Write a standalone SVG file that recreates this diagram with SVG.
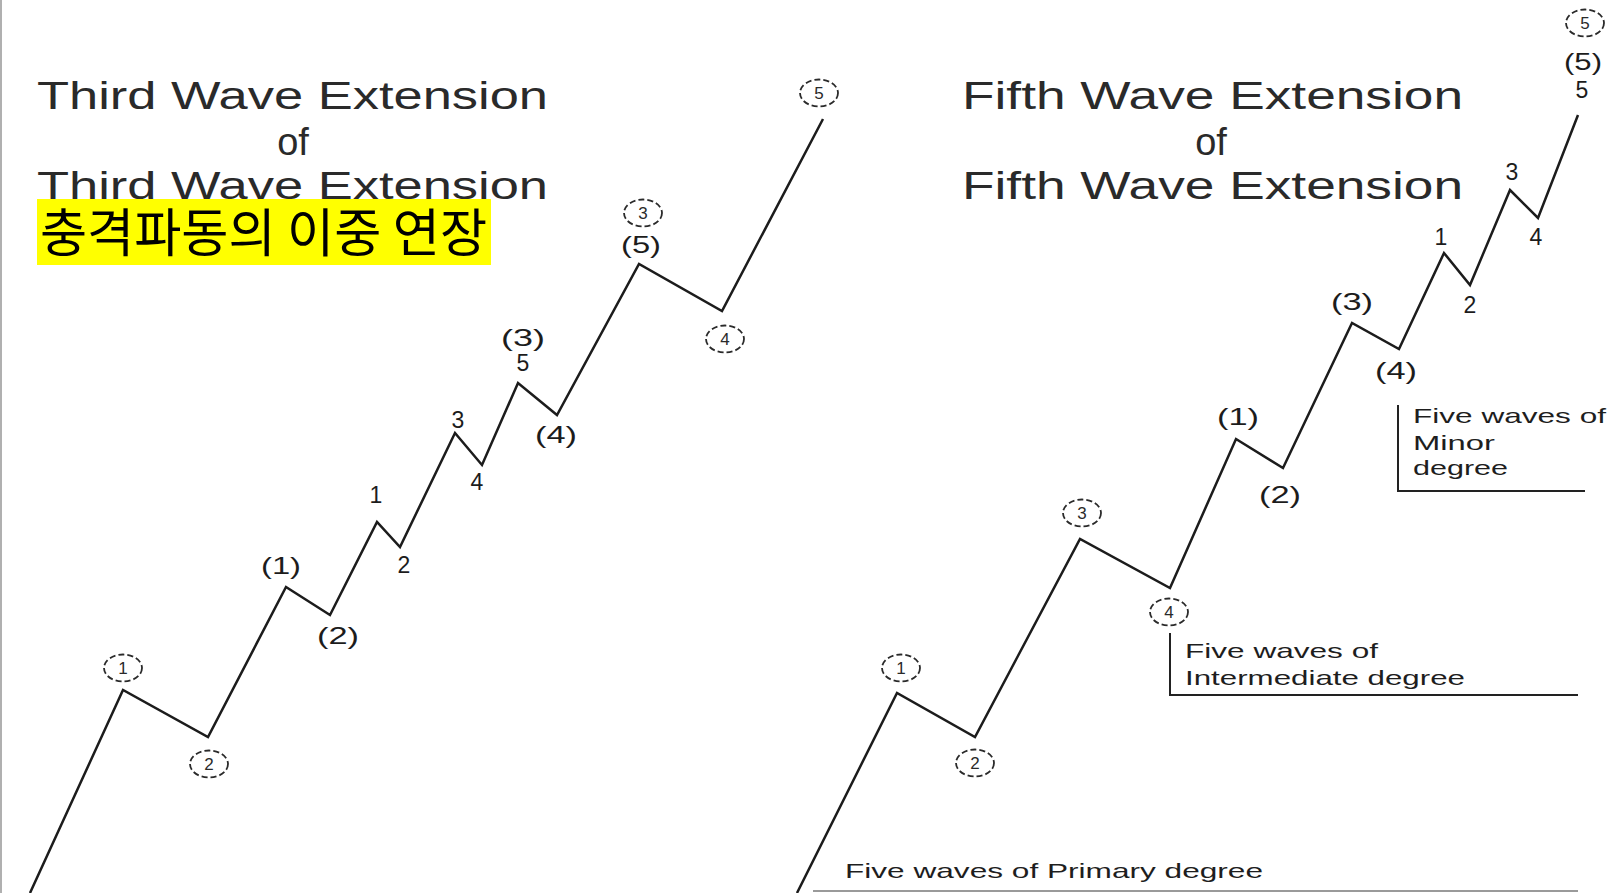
<svg xmlns="http://www.w3.org/2000/svg" width="1607" height="893" viewBox="0 0 1607 893">
<style>
.title{font-family:"Liberation Sans",Arial,sans-serif;font-size:38px;fill:#2a2a2a;text-anchor:start}
.titlec{font-family:"Liberation Sans",Arial,sans-serif;font-size:38px;fill:#2a2a2a;text-anchor:middle}
.wave{fill:none;stroke:#1c1c1c;stroke-width:2.5;stroke-linejoin:miter}
.num{font-family:"Liberation Sans",Arial,sans-serif;font-size:23px;fill:#1c1c1c;text-anchor:middle}
.par{font-family:"Liberation Sans",Arial,sans-serif;font-size:24px;fill:#1c1c1c;text-anchor:middle}
.circ{fill:none;stroke:#2a2a2a;stroke-width:1.8;stroke-dasharray:6 3}
.cnum{font-family:"Liberation Sans",Arial,sans-serif;font-size:17px;fill:#2a2a2a;text-anchor:middle}
.call{font-family:"Liberation Sans",Arial,sans-serif;font-size:21px;fill:#1e1e1e}
.callline{fill:none;stroke:#222;stroke-width:2}
.kor{font-family:"Noto Sans CJK KR","Noto Sans CJK SC",sans-serif;font-size:52px;fill:#000}
</style>
<defs>
<ellipse id="ring" cx="0" cy="0" rx="19" ry="13.5" class="circ"/>
</defs>
<rect x="0" y="0" width="1607" height="893" fill="#ffffff"/>
<line x1="1" y1="0" x2="1" y2="893" stroke="#b0b0b0" stroke-width="2"/>

<g id="title-left">
<text class="title" x="37" y="109" textLength="511" lengthAdjust="spacingAndGlyphs">Third Wave Extension</text>
<text class="titlec" x="293" y="155">of</text>
<text class="title" x="37" y="199" textLength="511" lengthAdjust="spacingAndGlyphs">Third Wave Extension</text>
</g>
<g id="korean-label">
<rect x="37" y="199" width="454" height="66" fill="#ffff00"/>
<text class="kor" x="40" y="252" textLength="447" lengthAdjust="spacingAndGlyphs">충격파동의 이중 연장</text>
</g>
<g id="title-right">
<text class="title" x="962" y="109" textLength="501" lengthAdjust="spacingAndGlyphs">Fifth Wave Extension</text>
<text class="titlec" x="1211" y="155">of</text>
<text class="title" x="962" y="199" textLength="501" lengthAdjust="spacingAndGlyphs">Fifth Wave Extension</text>
</g>

<g id="connectors">
<polyline id="wave-left" class="wave" points="30,893 123,690 208,737 286,587 330,615 377,522 400,547 455,433 482,465 518,383 557,415 639,264 722,311 823,119"/>
<polyline id="wave-right" class="wave" points="797,893 897,693 975,737 1080,539 1170,588 1236,439 1283,468 1352,323 1399,349 1444,253 1470,285 1510,190 1538,218 1578,115"/>
</g>

<g id="labels-left">
<g id="L-c1"><use href="#ring" x="123" y="668"/><text class="cnum" x="123" y="674">1</text></g>
<g id="L-c2"><use href="#ring" x="209" y="764"/><text class="cnum" x="209" y="770">2</text></g>
<g id="L-c3"><use href="#ring" x="643" y="213"/><text class="cnum" x="643" y="219">3</text></g>
<g id="L-c4"><use href="#ring" x="725" y="339"/><text class="cnum" x="725" y="345">4</text></g>
<g id="L-c5"><use href="#ring" x="819" y="93"/><text class="cnum" x="819" y="99">5</text></g>
<text class="par" x="281" y="574" textLength="40" lengthAdjust="spacingAndGlyphs">(1)</text>
<text class="par" x="338" y="644" textLength="42" lengthAdjust="spacingAndGlyphs">(2)</text>
<text class="par" x="523" y="346" textLength="44" lengthAdjust="spacingAndGlyphs">(3)</text>
<text class="par" x="556" y="443" textLength="42" lengthAdjust="spacingAndGlyphs">(4)</text>
<text class="par" x="641" y="253" textLength="40" lengthAdjust="spacingAndGlyphs">(5)</text>
<text class="num" x="376" y="503">1</text>
<text class="num" x="404" y="573">2</text>
<text class="num" x="458" y="428">3</text>
<text class="num" x="477" y="490">4</text>
<text class="num" x="523" y="371">5</text>
</g>

<g id="labels-right">
<g id="R-c1"><use href="#ring" x="901" y="668"/><text class="cnum" x="901" y="674">1</text></g>
<g id="R-c2"><use href="#ring" x="975" y="763"/><text class="cnum" x="975" y="769">2</text></g>
<g id="R-c3"><use href="#ring" x="1082" y="513"/><text class="cnum" x="1082" y="519">3</text></g>
<g id="R-c4"><use href="#ring" x="1169" y="612"/><text class="cnum" x="1169" y="618">4</text></g>
<g id="R-c5"><use href="#ring" x="1585" y="23"/><text class="cnum" x="1585" y="29">5</text></g>
<text class="par" x="1238" y="425" textLength="42" lengthAdjust="spacingAndGlyphs">(1)</text>
<text class="par" x="1280" y="503" textLength="42" lengthAdjust="spacingAndGlyphs">(2)</text>
<text class="par" x="1352" y="310" textLength="42" lengthAdjust="spacingAndGlyphs">(3)</text>
<text class="par" x="1396" y="379" textLength="42" lengthAdjust="spacingAndGlyphs">(4)</text>
<text class="par" x="1583" y="70" textLength="38" lengthAdjust="spacingAndGlyphs">(5)</text>
<text class="num" x="1441" y="245">1</text>
<text class="num" x="1470" y="313">2</text>
<text class="num" x="1512" y="180">3</text>
<text class="num" x="1536" y="245">4</text>
<text class="num" x="1582" y="98">5</text>
</g>

<g id="callout-primary">
<line x1="813" y1="891" x2="1578" y2="891" stroke="#9a9a9a" stroke-width="2"/>
<text class="call" x="845" y="878" textLength="418" lengthAdjust="spacingAndGlyphs">Five waves of Primary degree</text>
</g>
<g id="callout-intermediate">
<polyline class="callline" points="1170,633 1170,695 1578,695"/>
<text class="call" x="1185" y="658" textLength="193" lengthAdjust="spacingAndGlyphs">Five waves of</text>
<text class="call" x="1185" y="685" textLength="280" lengthAdjust="spacingAndGlyphs">Intermediate degree</text>
</g>
<g id="callout-minor">
<polyline class="callline" points="1398,405 1398,491 1585,491"/>
<text class="call" x="1413" y="423" textLength="193" lengthAdjust="spacingAndGlyphs">Five waves of</text>
<text class="call" x="1413" y="450" textLength="82" lengthAdjust="spacingAndGlyphs">Minor</text>
<text class="call" x="1413" y="475" textLength="95" lengthAdjust="spacingAndGlyphs">degree</text>
</g>
</svg>
